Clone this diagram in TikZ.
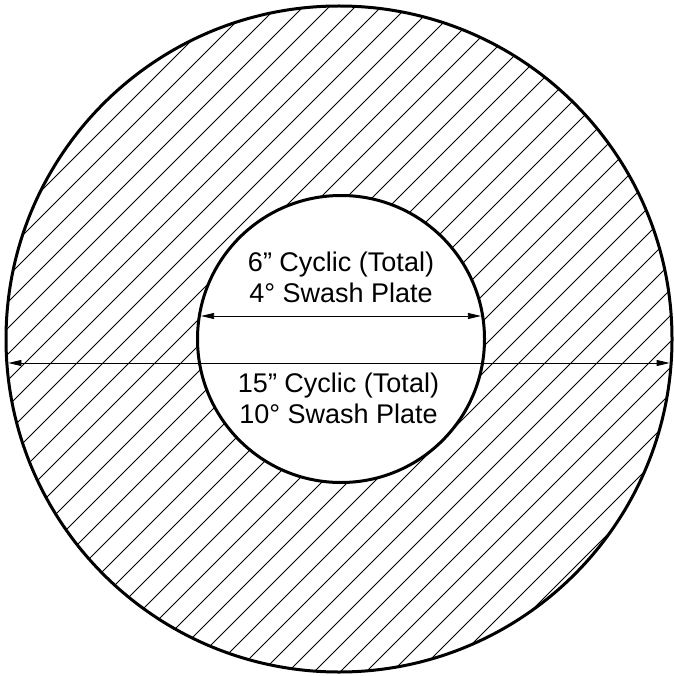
\documentclass[tikz,border=0pt]{standalone}
\usepackage{fontspec}
\setmainfont{Liberation Sans}
\usetikzlibrary{arrows.meta}
\begin{document}
\begin{tikzpicture}[x=1pt,y=-1pt,
  rim/.style={line width=3pt},
  hatch/.style={line width=0.9pt},
  dim/.style={line width=0.8pt,{Triangle[length=13pt,width=6pt]}-{Triangle[length=13pt,width=6pt]}},
  lbl/.style={font=\fontsize{27}{31}\selectfont, align=center, inner sep=0pt, anchor=base}]
\useasboundingbox (0,0) rectangle (673,676);
\coordinate (oc) at (339,339);
\coordinate (ic) at (341,339);
\begin{scope}[even odd rule]
  \clip (oc) circle[radius=333pt] (ic) circle[radius=143.5pt];
  \foreach \k in {0,...,52} {
    \pgfmathsetmacro\c{24+26*\k}
    \draw[hatch] (\c+20,-20) -- (\c-720,720);
  }
\end{scope}
\draw[rim] (oc) circle[radius=333pt];
\draw[rim] (ic) circle[radius=143.5pt];
\coordinate (oL) at (8.4,363);
\coordinate (oR) at (669.6,363);
\coordinate (iL) at (201.1,316);
\coordinate (iR) at (480.9,316);
\draw[dim] (iL) -- (iR);
\draw[dim] (oL) -- (oR);
\node[lbl] (t1) at (341,302.7) {6” Cyclic (Total)\\4° Swash Plate};
\node[lbl] (t2) at (338.5,423.3) {15” Cyclic (Total)\\10° Swash Plate};
\end{tikzpicture}
\end{document}
